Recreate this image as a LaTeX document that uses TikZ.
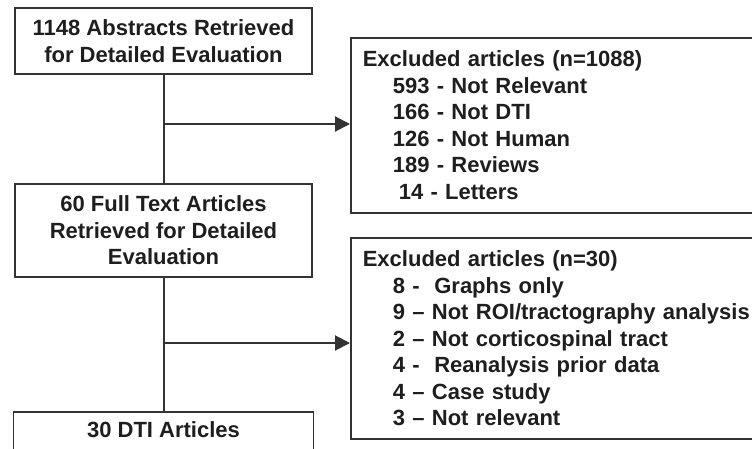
\documentclass[tikz,border=0pt]{standalone}
\usepackage{fontspec}
\setmainfont{Liberation Sans}
\usetikzlibrary{arrows.meta}
\definecolor{linec}{HTML}{333333}
\definecolor{textc}{HTML}{1E1E1E}
\begin{document}
\begin{tikzpicture}[x=1pt,y=-1pt,
  box/.style={draw=linec, line width=1.6pt, fill=white, text=textc,
    font=\fontsize{22}{26.5}\selectfont\bfseries, inner sep=0pt},
  conn/.style={draw=linec, line width=2pt},
  arr/.style={conn, -{Triangle[length=15pt,width=15pt]}}]
\useasboundingbox (0,0) rectangle (752,448);
\fill[white] (0,0) rectangle (752,448);
\clip (0,0) rectangle (752,448);
\node[box, minimum width=297pt, minimum height=66pt, align=center] (b1) at (163.5,41)
  {1148 Abstracts Retrieved\\for Detailed Evaluation};
\node[box, minimum width=297pt, minimum height=93pt, align=center] (b3) at (163.5,230.5)
  {60 Full Text Articles\\Retrieved for Detailed\\Evaluation};
\node[box, anchor=north, minimum width=300pt, text height=16pt, text depth=40pt, inner ysep=10pt] (b4) at (163.5,411)
  {30 DTI Articles};
\node[box, anchor=north west, minimum width=430pt, minimum height=175pt, text width=406pt, align=left, inner xsep=12pt] (b2) at (350,37)
  {Excluded articles (n=1088)\\
   \hspace*{30pt}593 - Not Relevant\\
   \hspace*{30pt}166 - Not DTI\\
   \hspace*{30pt}126 - Not Human\\
   \hspace*{30pt}189 - Reviews\\
   \hspace*{36pt}14 - Letters};
\node[box, anchor=north west, minimum width=430pt, minimum height=201pt, text width=406pt, align=left, inner xsep=12pt] (b5) at (350,237)
  {Excluded articles (n=30)\\
   \hspace*{30pt}8 -\ \ Graphs only\\
   \hspace*{30pt}9 – Not ROI/tractography analysis\\
   \hspace*{30pt}2 – Not corticospinal tract\\
   \hspace*{30pt}4 -\ \ Reanalysis prior data\\
   \hspace*{30pt}4 – Case study\\
   \hspace*{30pt}3 – Not relevant};
\coordinate (j1) at (163.5,124);
\coordinate (j2) at (163.5,343);
\draw[conn] (b1.south) -- (b3.north);
\draw[conn] (b3.south) -- (b4.north);
\draw[arr] (j1) -- (j1 -| b2.west);
\draw[arr] (j2) -- (j2 -| b5.west);
\end{tikzpicture}
\end{document}
